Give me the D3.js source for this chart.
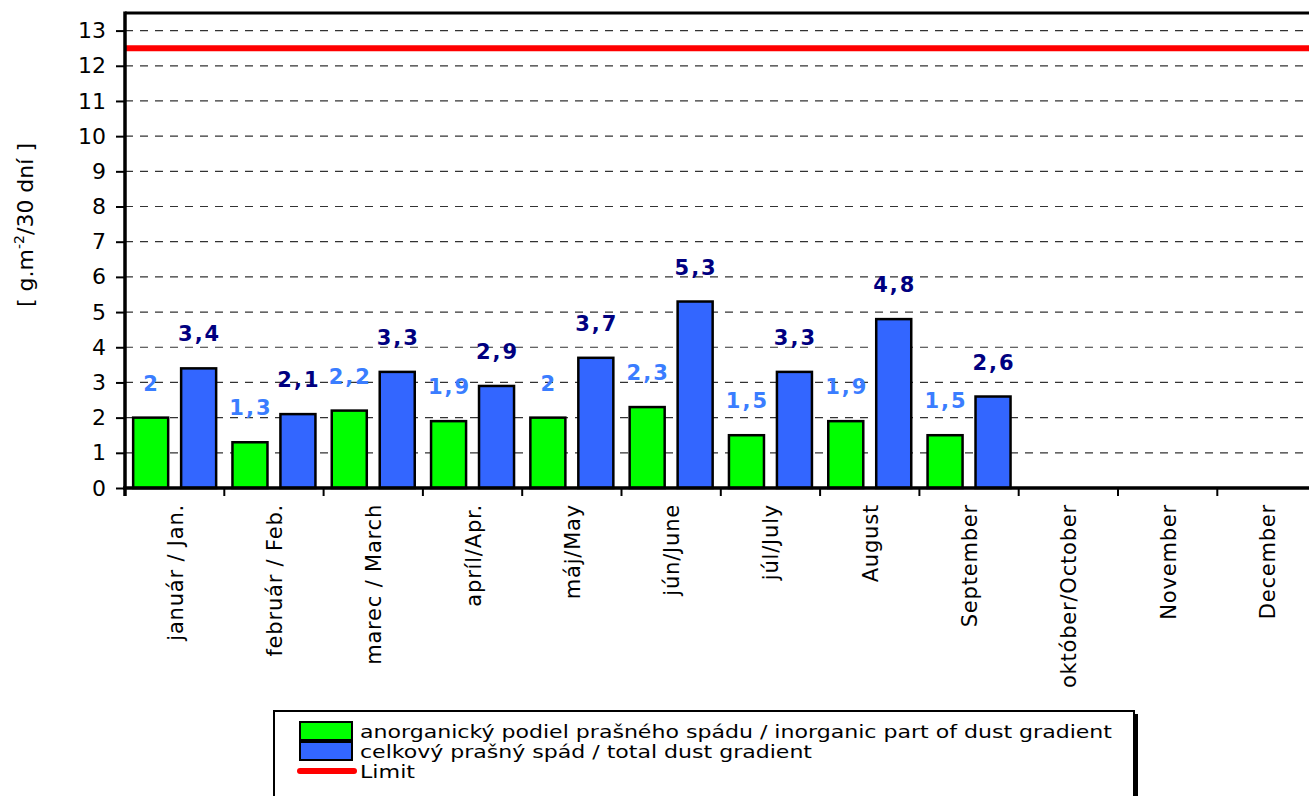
<!DOCTYPE html>
<html><head><meta charset="utf-8">
<script src="https://cdn.jsdelivr.net/npm/d3@7"></script>
<style>body{margin:0;background:#fff;overflow:hidden}svg{display:block}</style>
</head><body>
<svg id="c" width="1309" height="796"></svg>
<script>
const categories = ["január / Jan.","február / Feb.","marec / March","apríl/Apr.","máj/May","jún/June","júl/July","August","September","október/October","November","December"];
const inorganic = [2, 1.3, 2.2, 1.9, 2, 2.3, 1.5, 1.9, 1.5, null, null, null];
const total = [3.4, 2.1, 3.3, 2.9, 3.7, 5.3, 3.3, 4.8, 2.6, null, null, null];
const limitValue = 12.5;
const yTicks = [0,1,2,3,4,5,6,7,8,9,10,11,12,13];
const seriesNames = ["anorganický podiel prašného spádu / inorganic part of dust gradient","celkový prašný spád / total dust gradient","Limit"];

const font = "'DejaVu Sans', sans-serif";
const svg = d3.select("#c");
const L = 125, B = 488, T = 13, step = 99.3;
const R = L + step * categories.length;
const x = d3.scaleBand().domain(categories).range([L, R]).padding(0);
const xs = d3.scaleBand().domain(["g","b"]).range([0, step]).paddingInner(0.27).paddingOuter(0.17);
const y = d3.scaleLinear().domain([0, 13.5]).range([B, T]);

// gridlines
svg.append("g").selectAll("line").data(yTicks.filter(d=>d>0)).join("line")
  .attr("x1", L).attr("x2", 1309).attr("y1", d=>y(d)).attr("y2", d=>y(d))
  .attr("stroke", "#333").attr("stroke-width", 1.2).attr("stroke-dasharray", "8,7");

// top border
svg.append("line").attr("x1", L).attr("x2", 1309).attr("y1", T).attr("y2", T).attr("stroke","#000").attr("stroke-width",3);

// limit line
svg.append("line").attr("x1", L).attr("x2", 1309).attr("y1", y(limitValue)).attr("y2", y(limitValue))
  .attr("stroke", "#ff0000").attr("stroke-width", 6);

// bars
const data = categories.map((c,i)=>({c, g: inorganic[i], b: total[i]}));
const bars = svg.append("g");
[["g", "#00ff00"], ["b", "#3366ff"]].forEach(([k, col]) => {
  bars.selectAll(".bar-"+k).data(data.filter(d=>d[k]!=null)).join("rect")
    .attr("x", d=>x(d.c)+xs(k)).attr("width", xs.bandwidth())
    .attr("y", d=>y(d[k])).attr("height", d=>y(0)-y(d[k]))
    .attr("fill", col).attr("stroke", "#000").attr("stroke-width", 2.5);
});
// value labels
const fmt = v => String(v).replace(".", ",");
[["g", "#3a7dff"], ["b", "#000080"]].forEach(([k, col]) => {
  svg.append("g").selectAll("text").data(data.filter(d=>d[k]!=null)).join("text")
    .attr("x", d=>x(d.c)+xs(k)+xs.bandwidth()/2+1).attr("y", d=>y(d[k]) - 27)
    .attr("text-anchor","middle").attr("font-family", font).attr("font-weight","bold")
    .attr("font-size", 21).attr("fill", col).attr("letter-spacing", 2).text(d=>fmt(d[k]));
});

// y axis
const yAxis = svg.append("g").attr("transform", `translate(${L},0)`)
  .call(d3.axisLeft(y).tickValues(yTicks).tickSize(9).tickPadding(10));
yAxis.select(".domain").attr("stroke-width", 3.5).attr("d", `M0,${T-1.5}V${B+8}`);
yAxis.selectAll(".tick line").attr("stroke-width", 2);
yAxis.selectAll("text").attr("font-family", font).attr("font-size", 22).attr("fill","#000");

// x axis
const xAxis = svg.append("g").attr("transform", `translate(0,${B})`)
  .call(d3.axisBottom(x).tickSize(0).tickFormat(""));
xAxis.select(".domain").attr("stroke-width", 3.5).attr("d", `M${L-2},0H1309`);
svg.append("g").selectAll("line").data(d3.range(categories.length+1)).join("line")
  .attr("x1", i=>L+i*step).attr("x2", i=>L+i*step).attr("y1", B).attr("y2", B+8)
  .attr("stroke","#000").attr("stroke-width",2);
svg.append("g").selectAll("text").data(categories).join("text")
  .attr("transform", d=>`translate(${x(d)+x.bandwidth()/2+8},${B+16}) rotate(-90)`)
  .attr("text-anchor","end").attr("font-family", font).attr("font-size", 21).attr("letter-spacing", 0.8).attr("fill","#000")
  .text(d=>d);

// y title
const yt = svg.append("text").attr("transform", "translate(33,225) rotate(-90)")
  .attr("text-anchor","middle").attr("font-family", font).attr("font-size", 22).attr("fill","#000");
yt.append("tspan").text("[ g.m");
yt.append("tspan").attr("dy", -9).attr("font-size", 14).text("-2");
yt.append("tspan").attr("dy", 9).text("/30 dní ]");

// legend
const lg = svg.append("g");
lg.append("rect").attr("x", 278).attr("y", 714).attr("width", 860).attr("height", 90).attr("fill","#000");
lg.append("rect").attr("x", 274).attr("y", 711).attr("width", 860).attr("height", 90).attr("fill","#fff").attr("stroke","#000").attr("stroke-width",2);
const rowsY = [731, 751, 771];
const legendLens = [752, 452, 55];
lg.append("rect").attr("x", 300).attr("y", rowsY[0]-9).attr("width", 52).attr("height", 18).attr("fill","#00ff00").attr("stroke","#000").attr("stroke-width",2);
lg.append("rect").attr("x", 300).attr("y", rowsY[1]-9).attr("width", 52).attr("height", 18).attr("fill","#3366ff").attr("stroke","#000").attr("stroke-width",2);
lg.append("line").attr("x1", 300).attr("x2", 354).attr("y1", rowsY[2]).attr("y2", rowsY[2]).attr("stroke","#ff0000").attr("stroke-width",6).attr("stroke-linecap","round");
lg.selectAll("text").data(seriesNames).join("text")
  .attr("x", 360).attr("y", (d,i)=>rowsY[i]+7).attr("font-family", font).attr("font-size", 18.5).attr("fill","#000")
  .attr("textLength", (d,i)=> legendLens[i]).attr("lengthAdjust","spacingAndGlyphs")
  .text(d=>d);
</script>
</body></html>
